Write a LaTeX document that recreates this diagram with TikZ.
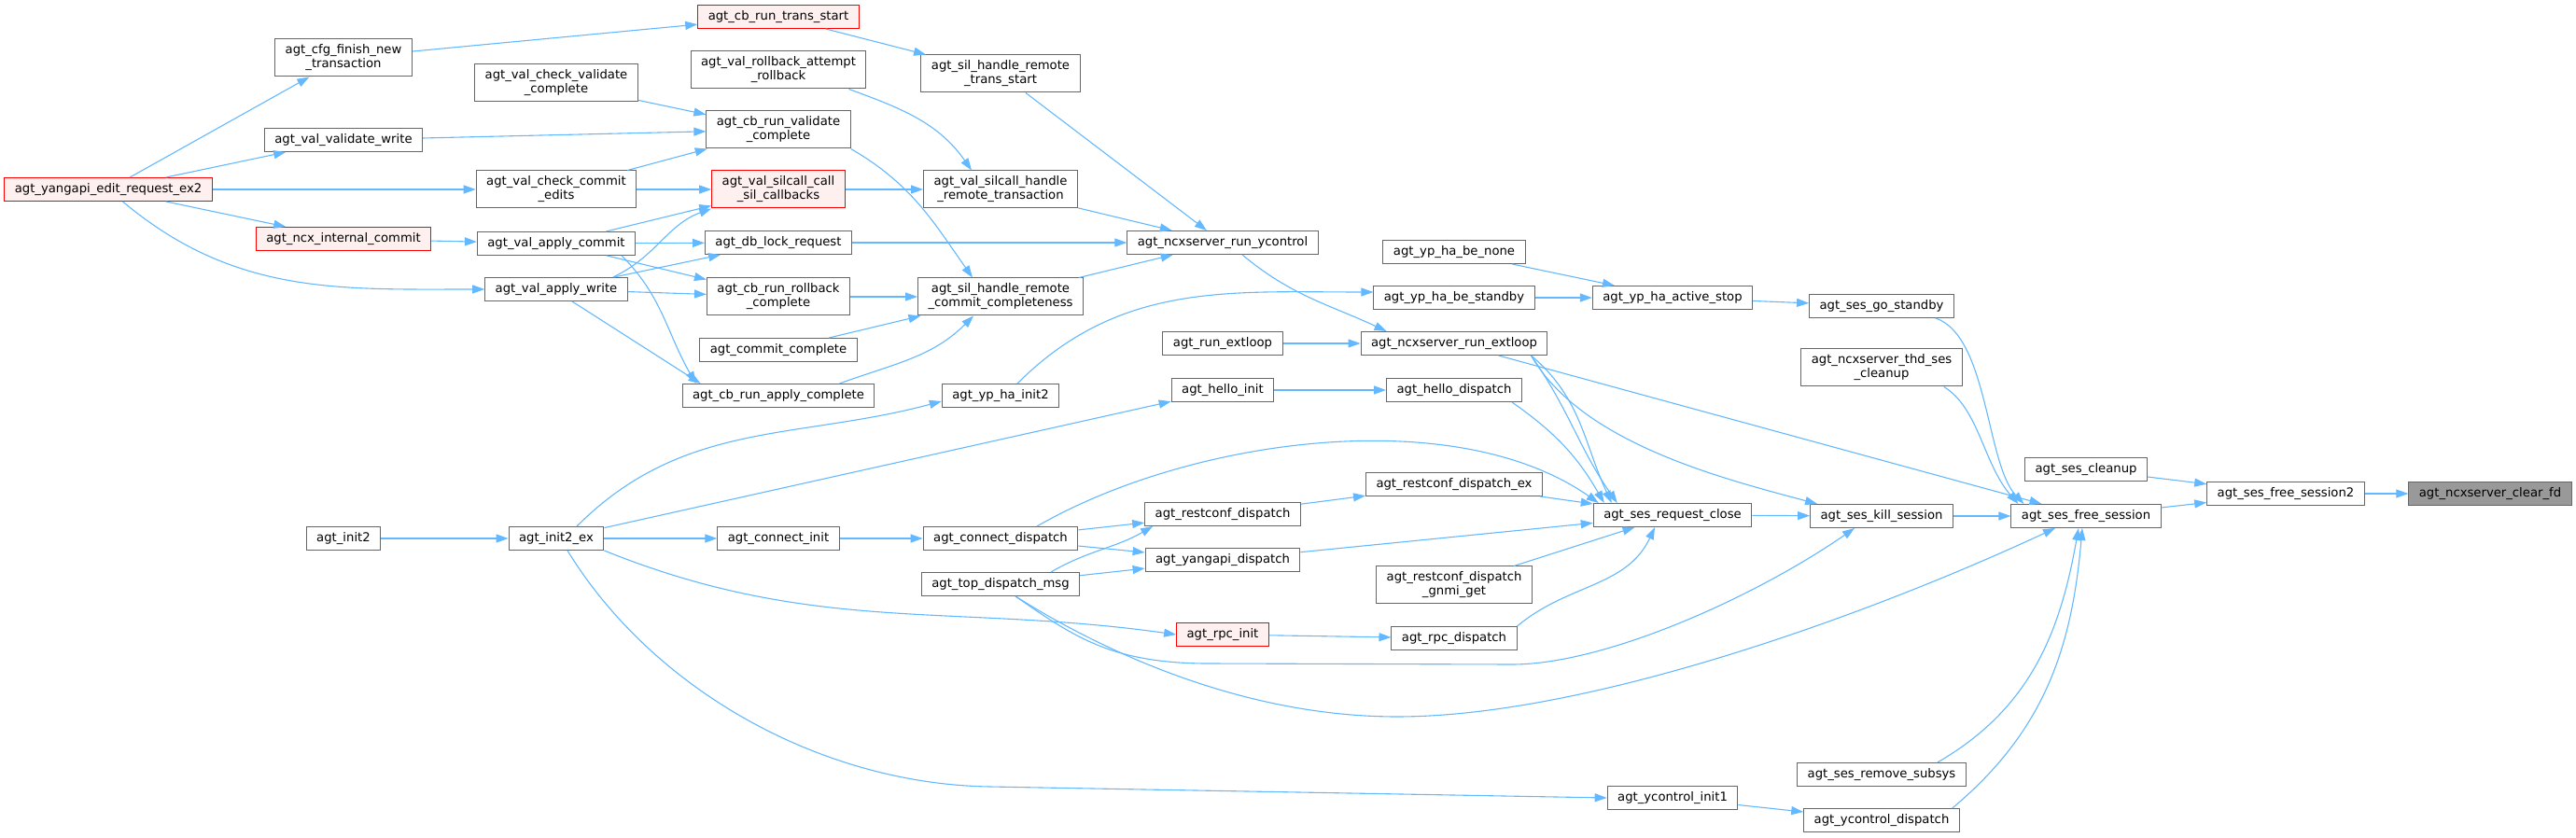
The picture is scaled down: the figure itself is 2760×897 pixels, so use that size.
\documentclass[tikz,border=0pt]{standalone}
\usepackage{fontspec}
\setmainfont{DejaVu Sans}
\usetikzlibrary{arrows.meta}
\definecolor{callblue}{HTML}{63B8FF}
\definecolor{fnborder}{HTML}{666666}
\definecolor{hlred}{HTML}{FF0000}
\definecolor{hlfill}{HTML}{FFF0F0}
\definecolor{focusgray}{HTML}{999999}

\begin{document}
\begin{tikzpicture}[x=1pt,y=1pt,
	fn/.style={draw=fnborder,fill=white,line width=1pt,inner xsep=11pt,inner ysep=2pt,minimum height=25pt,align=center,font=\fontsize{13.2}{15}\selectfont},
	twoline/.style={fn,minimum height=40pt},
	hl/.style={draw=hlred,fill=hlfill},
	focus/.style={fill=focusgray},
	call/.style={draw=callblue,line width=1.1pt,-{Triangle[length=13pt,width=9pt]}},
	every edge/.style={call}]
	\useasboundingbox (0,0) rectangle (2760,897);

	\node[fn,hl] (editex2) at (116,694) {agt\_yangapi\_edit\_request\_ex2};
	\node[twoline] (cfgfinish) at (368,835) {agt\_cfg\_finish\_new\\\_transaction};
	\node[fn] (validatewrite) at (368,747) {agt\_val\_validate\_write};
	\node[fn,hl] (internalcommit) at (368,641) {agt\_ncx\_internal\_commit};
	\node[twoline] (chkvalidate) at (596,808) {agt\_val\_check\_validate\\\_complete};
	\node[twoline] (chkcommit) at (596,694) {agt\_val\_check\_commit\\\_edits};
	\node[fn] (applycommit) at (596,636) {agt\_val\_apply\_commit};
	\node[fn] (applywrite) at (596,587) {agt\_val\_apply\_write};
	\node[fn,hl] (transstart) at (834,879) {agt\_cb\_run\_trans\_start};
	\node[twoline] (rollbackattempt) at (834,822) {agt\_val\_rollback\_attempt\\\_rollback};
	\node[twoline] (cbvalidate) at (834,758) {agt\_cb\_run\_validate\\\_complete};
	\node[twoline,hl] (silcallcall) at (834,694) {agt\_val\_silcall\_call\\\_sil\_callbacks};
	\node[fn] (dblock) at (834,637) {agt\_db\_lock\_request};
	\node[twoline] (cbrollback) at (834,579) {agt\_cb\_run\_rollback\\\_complete};
	\node[fn] (commitcomplete) at (834,522) {agt\_commit\_complete};
	\node[fn] (cbapply) at (834,473) {agt\_cb\_run\_apply\_complete};
	\node[twoline] (silremotetrans) at (1072,818) {agt\_sil\_handle\_remote\\\_trans\_start};
	\node[twoline] (silcallremote) at (1072,694) {agt\_val\_silcall\_handle\\\_remote\_transaction};
	\node[twoline] (commitcompl) at (1072,579) {agt\_sil\_handle\_remote\\\_commit\_completeness};
	\node[fn] (hainit2) at (1072,473) {agt\_yp\_ha\_init2};
	\node[fn] (runycontrol) at (1310,637) {agt\_ncxserver\_run\_ycontrol};
	\node[fn] (runextloop) at (1310,529) {agt\_run\_extloop};
	\node[fn] (helloinit) at (1310,479) {agt\_hello\_init};
	\node[fn] (habenone) at (1558,627) {agt\_yp\_ha\_be\_none};
	\node[fn] (habestandby) at (1558,578) {agt\_yp\_ha\_be\_standby};
	\node[fn] (extloop) at (1558,529) {agt\_ncxserver\_run\_extloop};
	\node[fn] (hellodispatch) at (1558,479) {agt\_hello\_dispatch};
	\node[fn] (restconfex) at (1558,378) {agt\_restconf\_dispatch\_ex};
	\node[twoline] (gnmiget) at (1558,270) {agt\_restconf\_dispatch\\\_gnmi\_get};
	\node[fn] (rpcdispatch) at (1558,213) {agt\_rpc\_dispatch};
	\node[fn] (haactivestop) at (1792,578) {agt\_yp\_ha\_active\_stop};
	\node[fn] (requestclose) at (1792,345) {agt\_ses\_request\_close};
	\node[fn] (ycontrolinit1) at (1792,42) {agt\_ycontrol\_init1};
	\node[fn] (gostandby) at (2016,569) {agt\_ses\_go\_standby};
	\node[twoline] (thdcleanup) at (2016,503) {agt\_ncxserver\_thd\_ses\\\_cleanup};
	\node[fn] (killsession) at (2016,344) {agt\_ses\_kill\_session};
	\node[fn] (removesubsys) at (2016,67) {agt\_ses\_remove\_subsys};
	\node[fn] (ycontroldispatch) at (2016,18) {agt\_ycontrol\_dispatch};
	\node[fn] (sescleanup) at (2235,394) {agt\_ses\_cleanup};
	\node[fn] (freesession) at (2235,344) {agt\_ses\_free\_session};
	\node[fn] (freesession2) at (2449,368) {agt\_ses\_free\_session2};
	\node[fn,focus] (clearfd) at (2668,368) {agt\_ncxserver\_clear\_fd};
	\node[fn] (init2) at (368,320) {agt\_init2};
	\node[fn] (init2ex) at (596,320) {agt\_init2\_ex};
	\node[fn] (connectinit) at (834,320) {agt\_connect\_init};
	\node[fn] (connectdispatch) at (1072,320) {agt\_connect\_dispatch};
	\node[fn] (topdispatch) at (1072,271) {agt\_top\_dispatch\_msg};
	\node[fn] (restconfdispatch) at (1310,346) {agt\_restconf\_dispatch};
	\node[fn] (yangapidispatch) at (1310,297) {agt\_yangapi\_dispatch};
	\node[fn,hl] (rpcinit) at (1310,217) {agt\_rpc\_init};

	\path (editex2) edge (cfgfinish) edge (validatewrite) edge (chkcommit) edge (internalcommit)
		edge[out=-40,in=180] (applywrite);
	\path (cfgfinish) edge (transstart);
	\path (validatewrite) edge (cbvalidate);
	\path (chkvalidate) edge (cbvalidate);
	\path (chkcommit) edge (cbvalidate) edge (silcallcall);
	\path (internalcommit) edge (applycommit);
	\path (applycommit) edge (silcallcall) edge (dblock) edge (cbrollback);
	\path ([xshift=-15pt]applycommit.south east) edge[out=-45,in=120] ([xshift=15pt]cbapply.north west);
	\path (applywrite) edge (dblock) edge (cbrollback);
	\path ([xshift=-16pt]applywrite.north east) edge[out=25,in=200] (silcallcall.south west);
	\path ([xshift=17pt]applywrite.south) edge ([xshift=20pt]cbapply.north west);
	\path (transstart) edge (silremotetrans);
	\path ([xshift=-19pt]rollbackattempt.south east) edge[out=-20,in=125] ([xshift=-31pt]silcallremote.north);
	\path (cbvalidate.south east) edge[out=-30,in=125] ([xshift=-30pt]commitcompl.north);
	\path (silcallcall) edge (silcallremote);
	\path (dblock) edge (runycontrol);
	\path (cbrollback) edge (commitcompl);
	\path (commitcomplete) edge (commitcompl);
	\path ([xshift=-38pt]cbapply.north east) edge[out=20,in=225] ([xshift=-29pt]commitcompl.south);
	\path (silremotetrans) edge (runycontrol);
	\path (silcallremote) edge (runycontrol);
	\path (commitcompl) edge (runycontrol);
	\path ([xshift=18pt]hainit2.north) edge[out=45,in=180] ([yshift=6pt]habestandby.west);
	\path ([xshift=21pt]runycontrol.south) edge[out=-40,in=155] ([xshift=28pt]extloop.north west);
	\path (runextloop) edge (extloop);
	\path (helloinit) edge (hellodispatch);
	\path (habenone) edge (haactivestop);
	\path (habestandby) edge (haactivestop);
	\path (haactivestop) edge (gostandby);
	\path (extloop) edge (freesession);
	\path ([xshift=-18pt]extloop.south east) edge[out=-40,in=115] ([xshift=20pt]requestclose.north west)
		edge[out=-55,in=125] ([xshift=26pt]requestclose.north west)
		edge[out=-60,in=165,looseness=0.8] ([xshift=8pt]killsession.north west);
	\path ([xshift=-11pt]hellodispatch.south east) edge[out=-35,in=120] ([xshift=12pt]requestclose.north west);
	\path ([xshift=39pt]connectdispatch.north) edge[out=30,in=145,looseness=0.8] ([xshift=6pt]requestclose.north west);
	\path (restconfex) edge (requestclose);
	\path (yangapidispatch) edge (requestclose);
	\path (gnmiget) edge (requestclose);
	\path (rpcdispatch.north east) edge[out=40,in=-115] ([xshift=-19pt]requestclose.south);
	\path (requestclose) edge (killsession);
	\path (killsession) edge (freesession);
	\draw[call] ([xshift=16pt]topdispatch.south) .. controls (1150,215) and (1190,187) .. (1290,186) -- (1620,185) .. controls (1720,185) and (1880,257) .. ([xshift=-29pt]killsession.south);
	\draw[call] ([xshift=16pt]topdispatch.south) .. controls (1180,200) and (1330,129) .. (1497,129) .. controls (1700,129) and (2000,237) .. ([xshift=-33pt]freesession.south);
	\draw[call] ([xshift=-20pt]gostandby.south east) .. controls (2130,537) and (2128,400) .. ([xshift=14pt]freesession.north west);
	\draw[call] ([xshift=-20pt]thdcleanup.south east) .. controls (2120,460) and (2125,400) .. ([xshift=8pt]freesession.north west);
	\path ([xshift=-31pt]removesubsys.north east) edge[out=30,in=-100] ([xshift=-8pt]freesession.south);
	\path ([xshift=-8pt]ycontroldispatch.north east) edge[out=40,in=-95] ([xshift=-4pt]freesession.south);
	\path (sescleanup) edge (freesession2);
	\path (freesession) edge (freesession2);
	\path (freesession2) edge (clearfd);
	\path (init2) edge (init2ex);
	\path (init2ex) edge (connectinit) edge (helloinit);
	\path ([xshift=22pt]init2ex.north) edge[out=45,in=195] ([yshift=-6pt]hainit2.west);
	\path (init2ex.south east) edge[out=-22,in=172] (rpcinit.west);
	\draw[call] ([xshift=12pt]init2ex.south) .. controls (700,157) and (880,57) .. (1060,54) -- (ycontrolinit1.west);
	\path (connectinit) edge (connectdispatch);
	\path (connectdispatch) edge (restconfdispatch) edge (yangapidispatch);
	\path (topdispatch) edge (yangapidispatch);
	\path ([xshift=54pt]topdispatch.north) edge[out=30,in=210] ([xshift=9pt]restconfdispatch.south west);
	\path (restconfdispatch) edge (restconfex);
	\path (rpcinit) edge (rpcdispatch);
	\path (ycontrolinit1) edge (ycontroldispatch);
\end{tikzpicture}
\end{document}
